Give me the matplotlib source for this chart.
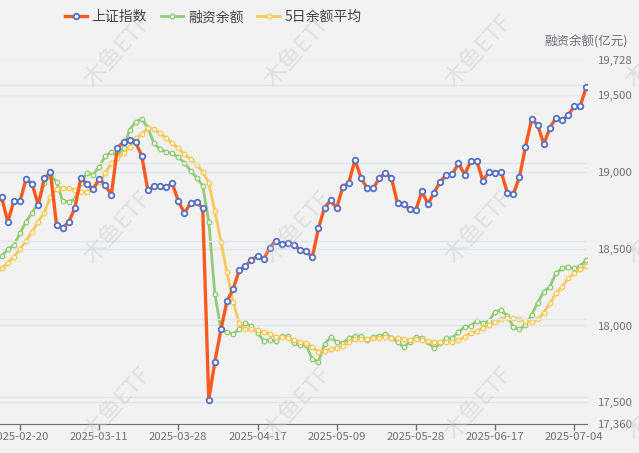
import numpy as np
import matplotlib
matplotlib.use("Agg")
import matplotlib.pyplot as plt
from matplotlib.ticker import FuncFormatter

plt.rcParams['font.family'] = ['Noto Sans CJK SC', 'DejaVu Sans']

dates = [
    "2025-02-14", "2025-02-17", "2025-02-18", "2025-02-19", "2025-02-20", "2025-02-21",
    "2025-02-24", "2025-02-25", "2025-02-26", "2025-02-27", "2025-02-28",
    "2025-03-03", "2025-03-04", "2025-03-05", "2025-03-06", "2025-03-07",
    "2025-03-10", "2025-03-11", "2025-03-12", "2025-03-13", "2025-03-14",
    "2025-03-17", "2025-03-18", "2025-03-19", "2025-03-20", "2025-03-21",
    "2025-03-24", "2025-03-25", "2025-03-26", "2025-03-27", "2025-03-28",
    "2025-03-31", "2025-04-01", "2025-04-02", "2025-04-03",
    "2025-04-07", "2025-04-08", "2025-04-09", "2025-04-10", "2025-04-11",
    "2025-04-14", "2025-04-15", "2025-04-16", "2025-04-17", "2025-04-18",
    "2025-04-21", "2025-04-22", "2025-04-23", "2025-04-24", "2025-04-25",
    "2025-04-28", "2025-04-29", "2025-04-30",
    "2025-05-06", "2025-05-07", "2025-05-08", "2025-05-09",
    "2025-05-12", "2025-05-13", "2025-05-14", "2025-05-15", "2025-05-16",
    "2025-05-19", "2025-05-20", "2025-05-21", "2025-05-22", "2025-05-23",
    "2025-05-26", "2025-05-27", "2025-05-28", "2025-05-29", "2025-05-30",
    "2025-06-03", "2025-06-04", "2025-06-05", "2025-06-06",
    "2025-06-09", "2025-06-10", "2025-06-11", "2025-06-12", "2025-06-13",
    "2025-06-16", "2025-06-17", "2025-06-18", "2025-06-19", "2025-06-20",
    "2025-06-23", "2025-06-24", "2025-06-25", "2025-06-26", "2025-06-27",
    "2025-06-30", "2025-07-01", "2025-07-02", "2025-07-03", "2025-07-04",
    "2025-07-07", "2025-07-08",
]

# 上证指数 close
sh_index = [
    3346.72, 3355.83, 3324.49, 3351.54, 3350.78, 3379.11, 3373.03, 3346.04, 3380.21, 3388.06,
    3320.90, 3316.93, 3324.21, 3341.97, 3381.10, 3372.55, 3366.16, 3379.82, 3371.92, 3358.73,
    3419.56, 3426.43, 3429.76, 3426.43, 3408.95, 3364.83, 3370.03, 3369.98, 3368.70, 3373.75,
    3351.31, 3335.75, 3348.44, 3350.13, 3342.01, 3096.58, 3145.55, 3186.81, 3223.64, 3238.23,
    3262.81, 3267.66, 3276.00, 3280.34, 3276.73, 3291.43, 3299.76, 3296.36, 3297.29, 3295.06,
    3288.41, 3286.65, 3279.03, 3316.11, 3342.67, 3352.00, 3342.00, 3369.24, 3374.87, 3403.95,
    3380.82, 3367.46, 3367.58, 3380.48, 3387.57, 3380.19, 3348.37, 3346.84, 3340.69, 3339.93,
    3363.45, 3347.49, 3361.98, 3376.20, 3384.10, 3385.36, 3399.77, 3384.82, 3402.32, 3402.66,
    3377.00, 3388.73, 3387.40, 3388.81, 3362.11, 3359.90, 3381.58, 3420.57, 3455.97, 3448.45,
    3424.23, 3444.43, 3457.75, 3454.79, 3461.15, 3472.32, 3473.13, 3497.48,
]

# 融资余额 (亿元)
margin = [
    18420, 18451, 18495, 18521, 18599, 18674, 18733, 18794, 18927, 18978,
    18934, 18811, 18804, 18820, 18924, 18993, 18978, 19032, 19100, 19129,
    19103, 19155, 19270, 19324, 19341, 19285, 19183, 19146, 19129, 19118,
    19092, 19058, 19005, 18960, 18908, 18674, 18204, 17977, 17959, 17944,
    17977, 18014, 17996, 17953, 17901, 17905, 17901, 17931, 17931, 17884,
    17873, 17873, 17780, 17764, 17879, 17923, 17894, 17888, 17916, 17931,
    17929, 17905, 17927, 17933, 17942, 17920, 17894, 17858, 17894, 17925,
    17916, 17890, 17851, 17884, 17916, 17920, 17955, 17992, 17998, 18029,
    18016, 18029, 18089, 18100, 18063, 17992, 17975, 18003, 18068, 18148,
    18219, 18252, 18339, 18371, 18378, 18371, 18386, 18425,
]

# 5日余额平均
margin_ma5 = [
    18335, 18371, 18408, 18447, 18495, 18551, 18609, 18674, 18733, 18836,
    18884, 18895, 18891, 18880, 18865, 18869, 18891, 18934, 18990, 19053,
    19086, 19118, 19161, 19216, 19242, 19281, 19276, 19248, 19216, 19183,
    19151, 19112, 19081, 19042, 18999, 18924, 18746, 18544, 18345, 18154,
    18014, 17975, 17975, 17970, 17959, 17944, 17927, 17923, 17916, 17905,
    17894, 17884, 17862, 17829, 17836, 17845, 17851, 17866, 17894, 17910,
    17913, 17910, 17916, 17920, 17927, 17920, 17916, 17910, 17905, 17910,
    17905, 17899, 17894, 17890, 17890, 17894, 17905, 17927, 17949, 17964,
    17985, 18003, 18020, 18042, 18050, 18046, 18040, 18030, 18024, 18040,
    18083, 18144, 18209, 18252, 18306, 18339, 18365, 18386,
]

right_ticks = [17360, 17500, 18000, 18500, 19000, 19500, 19728]
left_grid = [3100, 3200, 3300, 3400, 3500]

bg = '#f2f2f2'
grid_c = '#e0e6f1'
axis_c = '#6e7079'

fig = plt.figure(figsize=(6.39, 4.53), dpi=100, facecolor=bg)
ax = fig.add_axes([0, 29 / 453, 587 / 639, 364.5 / 453])
ax.set_facecolor(bg)
x = np.arange(len(dates))

# index on a hidden left axis, drawn on top
ax2 = ax.twinx()
ax2.patch.set_visible(False)

# margin lines on main axis, ticks on the right
ax.plot(x, margin, color='#91cc75', lw=2, marker='o', ms=3.2,
        mfc='white', mec='#91cc75', mew=1.0, label='融资余额', zorder=3)
ax.plot(x, margin_ma5, color='#fac858', lw=2, marker='o', ms=3.2,
        mfc='white', mec='#fac858', mew=1.0, label='5日余额平均', zorder=3)
ax.set_ylim(right_ticks[0], right_ticks[-1])
ax.set_xlim(0.72, len(dates) - 0.9)
ax.yaxis.tick_right()
ax.set_yticks(right_ticks)
ax.yaxis.set_major_formatter(FuncFormatter(lambda v, p: f"{int(v):,}"))
ax.tick_params(axis='y', length=0, pad=8, labelsize=8.2, labelcolor=axis_c,
               labelright=True, labelleft=False)
for v in right_ticks[1:]:
    ax.axhline(v, color=grid_c, lw=1, zorder=0)

tick_idx = list(range(4, len(dates), 13))
ax.set_xticks(tick_idx)
ax.set_xticklabels([dates[i] for i in tick_idx])
ax.tick_params(axis='x', length=4, width=1, color=axis_c, labelsize=8.2,
               labelcolor=axis_c, pad=2)
for s in ['top', 'left', 'right']:
    ax.spines[s].set_visible(False)
ax.spines['bottom'].set_color(axis_c)

ax2.set_ylim(3065.6, 3532.5)
for v in left_grid:
    ax2.axhline(v, color=grid_c, lw=1, zorder=0)
ax2.plot(x, sh_index, color='#fa5a1e', lw=2.4, marker='o', ms=4.0,
         mfc='white', mec='#5470c6', mew=1.3, label='上证指数', zorder=4)
ax2.set_yticks([])
for s in ax2.spines.values():
    s.set_visible(False)

fig.text(628 / 639, 1 - 40.5 / 453, '融资余额(亿元)', ha='right', va='center',
         fontsize=9, color=axis_c)

# watermark
for cy in [52, 228, 404]:
    for cx in [118, 298, 479, 659]:
        fig.text(cx / 639, 1 - cy / 453, '木鱼ETF', rotation=48, ha='center',
                 va='center', fontsize=17, color='#c8c8c8', alpha=0.4, zorder=0)

h2, l2 = ax2.get_legend_handles_labels()
h1, l1 = ax.get_legend_handles_labels()
leg = fig.legend(h2 + h1, l2 + l1, loc='upper left', bbox_to_anchor=(52 / 639, 1.005),
                 ncol=3, frameon=False, fontsize=10, handlelength=1.6,
                 columnspacing=1.0, handletextpad=0.35)
for t in leg.get_texts():
    t.set_color('#444444')

fig.savefig('out.png', dpi=100, facecolor=bg)
